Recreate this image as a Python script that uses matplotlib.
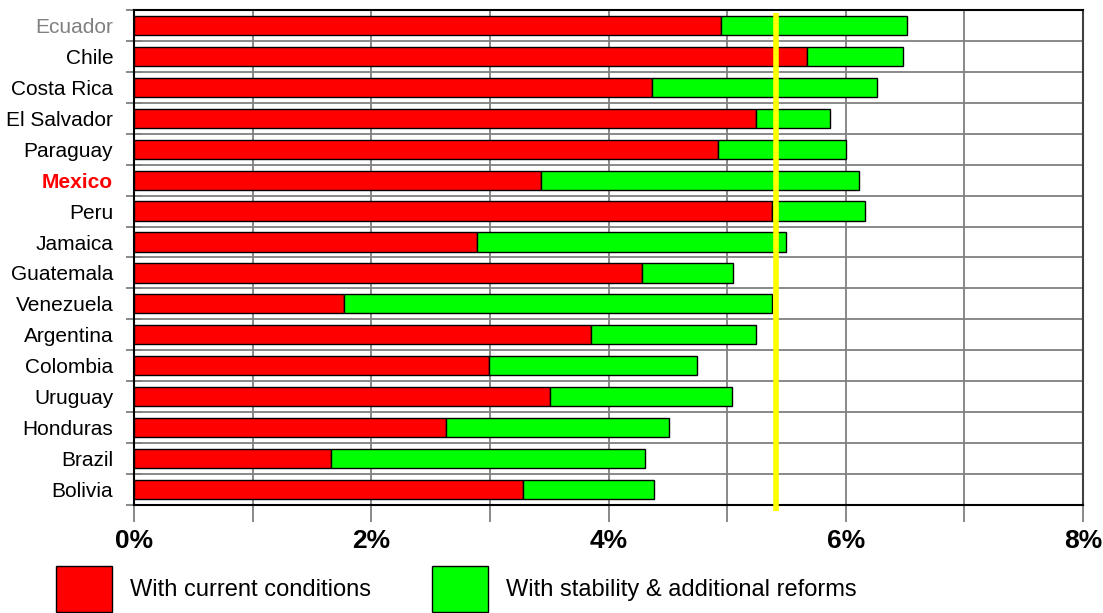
import matplotlib
matplotlib.use("Agg")
import matplotlib.pyplot as plt
from matplotlib.patches import Patch
import numpy as np

plt.rcParams['font.family'] = ['Liberation Sans', 'DejaVu Sans']

countries = ["Ecuador", "Chile", "Costa Rica", "El Salvador", "Paraguay", "Mexico",
             "Peru", "Jamaica", "Guatemala", "Venezuela", "Argentina", "Colombia",
             "Uruguay", "Honduras", "Brazil", "Bolivia"]
current = [4.95, 5.67, 4.37, 5.24, 4.92, 3.43, 5.38, 2.89, 4.28, 1.77, 3.85, 2.99,
           3.51, 2.63, 1.66, 3.28]
with_reforms = [6.52, 6.48, 6.26, 5.87, 6.00, 6.11, 6.16, 5.50, 5.05, 5.38, 5.24, 4.75,
                5.04, 4.51, 4.31, 4.38]
reference_line = 5.41
x_ticks = [0, 2, 4, 6, 8]
x_tick_labels = ["0%", "2%", "4%", "6%", "8%"]
legend_labels = ["With current conditions", "With stability & additional reforms"]

RED = "#FF0000"
GREEN = "#00FF00"

fig = plt.figure(figsize=(11.03, 6.13), dpi=100)
ax = fig.add_axes([0.1215, 0.1762, 0.8604, 0.8075])

n = len(countries)
y = np.arange(n)
extra = [w - c for w, c in zip(with_reforms, current)]
ax.barh(y, current, height=0.62, color=RED, edgecolor="black", linewidth=1.0, zorder=3)
ax.barh(y, extra, left=current, height=0.62, color=GREEN, edgecolor="black", linewidth=1.0, zorder=3)

ax.set_ylim(n - 0.5, -0.5)
ax.set_xlim(0, 8)

# reference line
ax.plot([reference_line, reference_line], [-0.4, n - 0.3], color="#FFFF00", linewidth=4.0,
        zorder=4, clip_on=False, solid_capstyle="butt")

# grid
ax.set_xticks(np.arange(0, 9, 1), minor=True)
ax.set_xticks(x_ticks)
ax.set_xticklabels(x_tick_labels, fontsize=19, fontweight="bold")
ax.set_yticks(y)
ax.set_yticklabels(countries, fontsize=15)
ax.set_yticks(np.arange(-0.5, n, 1), minor=True)
ax.grid(which="minor", color="#808080", linewidth=1.3, zorder=0)
ax.grid(which="major", axis="x", color="#808080", linewidth=1.3, zorder=0)

ax.tick_params(axis="y", which="major", length=0, pad=15)
ax.tick_params(axis="y", which="minor", length=12, direction="inout", color="#808080", width=1.3)
ax.tick_params(axis="x", which="both", length=12, direction="out", color="#808080", width=1.3, pad=5)

for lab in ax.get_yticklabels():
    if lab.get_text() == "Ecuador":
        lab.set_color("#808080")
    elif lab.get_text() == "Mexico":
        lab.set_color(RED)
        lab.set_fontweight("bold")

for s in ax.spines.values():
    s.set_color("black")
    s.set_linewidth(1.5)
ax.spines["right"].set_color("#404040")

handles = [Patch(facecolor=RED, edgecolor="black", linewidth=1.0),
           Patch(facecolor=GREEN, edgecolor="black", linewidth=1.0)]
fig.legend(handles, legend_labels, loc="lower left", bbox_to_anchor=(0.051, 0.0016),
           ncol=2, frameon=False, fontsize=17, handlelength=2.37, handleheight=2.65,
           handletextpad=0.75, columnspacing=2.6, borderaxespad=0, borderpad=0)

fig.savefig("out.png", dpi=100)
